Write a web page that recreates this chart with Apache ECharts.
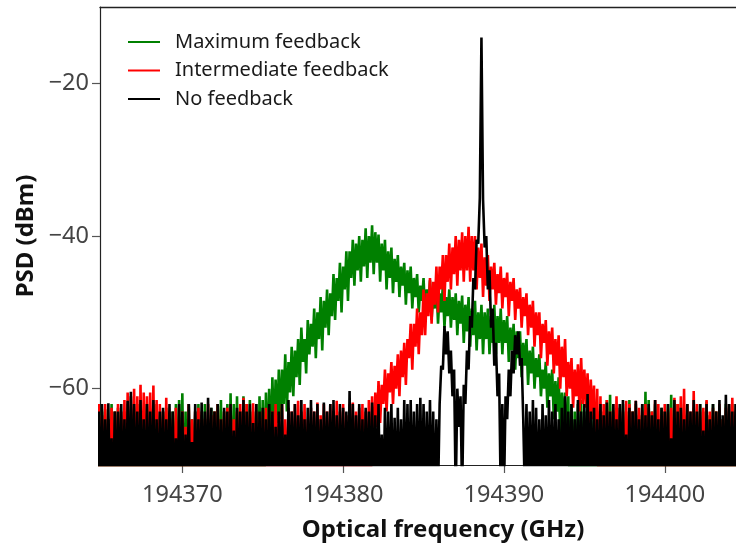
<!DOCTYPE html>
<html>
<head>
<meta charset="utf-8">
<style>
  html, body { margin: 0; padding: 0; background: #fff; }
  #chart { width: 736px; height: 547px; }
</style>
<script src="https://cdn.jsdelivr.net/npm/echarts@6/dist/echarts.min.js"></script>
</head>
<body>
<div id="chart"></div>
<script>
// Optical spectra (PSD in dBm) sampled every 0.1 GHz from freqStart.
// Each row below covers one GHz: values for .0, .1, ... .9
const freqStart = 194364.0;
const freqStep = 0.1;

const xTicks = [194370, 194380, 194390, 194400];
const yTicks = [-60, -40, -20];

const seriesNames = ['Maximum feedback', 'Intermediate feedback', 'No feedback'];
const seriesColors = ['#008000', '#ff0000', '#000000'];

const greenPsd = [
  -63,-76,-62,-76,-64,-76,-63,-76,-62.5,-76,      // 194364
  -63,-76,-62.7,-76,-64,-76,-62,-76,-63,-76,      // 194365
  -62.5,-76,-64,-76,-63,-76,-62,-76,-64,-76,      // 194366
  -63,-76,-62,-76,-64.5,-76,-63,-76,-62,-76,      // 194367
  -64,-76,-63,-76,-62,-76,-64,-76,-63,-76,        // 194368
  -62.5,-76,-64,-76,-63,-76,-62,-76,-61.5,-76,    // 194369
  -60.6,-76,-63,-76,-62,-76,-64,-76,-63,-76,      // 194370
  -62,-76,-63.5,-76,-62,-76,-64,-76,-62.5,-76,    // 194371
  -63,-76,-62,-76,-61.5,-76,-63,-76,-62,-76,      // 194372
  -60.6,-76,-62,-76,-61,-76,-63,-76,-61,-76,      // 194373
  -62,-76,-61.5,-76,-63,-76,-62,-76,-61,-76,      // 194374
  -61.5,-72,-60.5,-69,-60,-68,-58.5,-66.5,-58.8,-64.5, // 194375
  -57.5,-64,-57.5,-62,-55.5,-63,-56.5,-60.5,-54.5,-61, // 194376
  -55,-58.5,-53.5,-59.5,-52,-56.5,-53.5,-58,-51,-55.5, // 194377
  -51.5,-54.5,-49.5,-56,-50,-53.5,-48,-55,-48.5,-52, // 194378
  -47,-53,-47.5,-50.5,-45,-51,-45.5,-48.5,-43.5,-50, // 194379
  -44,-47,-42,-48.5,-42,-45.5,-40.5,-46.5,-41,-44.5, // 194380
  -40,-46,-40.5,-44,-39,-45.5,-40,-43.5,-38.6,-45, // 194381
  -39.5,-43.5,-39.8,-46,-41,-44.5,-40.5,-47,-42,-45.5, // 194382
  -41.5,-47.5,-43,-46,-42.5,-48,-44,-46.5,-43.5,-49, // 194383
  -44.5,-47.5,-44,-49.5,-45.5,-48,-45,-50,-46.5,-48.5, // 194384
  -45.5,-50.5,-47,-49,-45.8,-51,-47.5,-49.5,-46,-51.5, // 194385
  -47.5,-50,-46.5,-52,-48,-50.5,-47,-52,-48,-51,  // 194386
  -47.5,-53,-48.5,-51.5,-47.8,-54,-49,-52.5,-48,-54.5, // 194387
  -49.5,-53,-48.5,-55,-50,-53.5,-49,-55.5,-50,-53.5, // 194388
  -49.5,-55.5,-50.5,-54,-49,-55.5,-50.5,-54,-49.5,-55.5, // 194389
  -51,-54,-50.5,-56.5,-52,-55,-51.5,-57.5,-52.5,-56, // 194390
  -52.5,-58.5,-54,-57,-53.5,-59.5,-55,-58,-54.5,-60, // 194391
  -56,-58.5,-55.5,-61,-57.5,-60,-56.5,-62.5,-58,-61, // 194392
  -57.5,-64,-59,-63,-58.5,-66,-60.5,-65,-60.5,-68, // 194393
  -61,-76,-62,-76,-63,-76,-62,-76,-61.5,-76,      // 194394
  -63,-76,-62,-76,-64,-76,-62.5,-76,-63,-76,      // 194395
  -62,-76,-63,-76,-61.5,-76,-60.8,-76,-63,-76,    // 194396
  -62.5,-76,-64,-76,-62,-76,-63,-76,-61.5,-76,    // 194397
  -63,-76,-62,-76,-63.5,-76,-62,-76,-60.4,-76,    // 194398
  -61.5,-76,-63,-76,-62,-76,-64,-76,-62.5,-76,    // 194399
  -63,-76,-62,-76,-60.8,-76,-63,-76,-62,-76,      // 194400
  -62,-76,-63.5,-76,-62,-76,-64,-76,-62.5,-76,    // 194401
  -63,-76,-62,-76,-63,-76,-61.7,-76,-63.5,-76,    // 194402
  -62,-76,-63,-76,-62.5,-76,-64,-76,-62,-76,      // 194403
  -63,-76,-62,-76,-63.5,-76,-62,-76,-63,-76       // 194404
];

const redPsd = [
  -63,-76,-62.5,-76,-64,-76,-63,-76,-62,-76,      // 194364
  -63.5,-76,-62,-76,-64,-76,-62.5,-76,-63,-76,    // 194365
  -62,-76,-63,-76,-61.5,-76,-60.5,-76,-61,-76,    // 194366
  -60,-76,-61,-76,-59.5,-76,-60.5,-76,-61,-76,    // 194367
  -60.5,-76,-59.6,-76,-61.5,-76,-62,-76,-63,-76,  // 194368
  -61.2,-76,-63,-76,-64,-76,-62.5,-76,-64,-76,    // 194369
  -63,-76,-65,-76,-62,-76,-64,-76,-63,-76,        // 194370
  -62.5,-76,-63,-76,-64,-76,-62,-76,-63.5,-76,    // 194371
  -63,-76,-62,-76,-64,-76,-63,-76,-62.5,-76,      // 194372
  -62,-76,-64,-76,-63,-76,-62,-76,-61.2,-76,      // 194373
  -62,-76,-63,-76,-61.9,-76,-63,-76,-64,-76,      // 194374
  -63,-76,-62.5,-76,-64,-76,-63,-76,-62,-76,      // 194375
  -63.5,-76,-62,-76,-64,-76,-62.5,-76,-63,-76,    // 194376
  -62,-76,-61.6,-76,-63,-76,-62,-76,-64,-76,      // 194377
  -62.5,-76,-63,-76,-61.8,-76,-63.5,-76,-62,-76,  // 194378
  -63,-76,-62,-76,-62.9,-76,-61.6,-76,-63,-76,    // 194379
  -62,-76,-63.5,-76,-62,-76,-61.8,-76,-63,-76,    // 194380
  -62.5,-76,-62,-76,-63,-76,-61.5,-76,-61,-70,    // 194381
  -60.5,-65,-59,-64.5,-59.5,-62,-57.5,-63,-58,-60.5, // 194382
  -56.5,-62,-57,-60,-55.5,-61,-55,-58.5,-54,-59.5, // 194383
  -53.5,-56,-51.5,-57.5,-51.5,-54.5,-49.5,-55.5,-50,-53, // 194384
  -47,-53,-47.5,-50.5,-45.5,-51.5,-46,-49,-44,-50, // 194385
  -44,-47,-42.5,-48.5,-42.5,-46,-41,-47,-41.5,-45, // 194386
  -40,-46.5,-40.5,-44.5,-39.5,-46,-40,-44.5,-38.8,-46, // 194387
  -40,-44.5,-40,-47,-41.5,-45.5,-41,-48,-42.8,-46.5, // 194388
  -42.5,-48.5,-44,-47,-43.5,-49,-45,-47.5,-44,-49.5, // 194389
  -45.5,-48,-44.8,-50.5,-46,-48.5,-45.5,-51,-47,-49.5, // 194390
  -46.8,-52,-48,-50.5,-47.5,-53,-49,-52,-48.5,-54.5, // 194391
  -50,-53,-50,-56,-51.5,-54,-51,-57,-52.5,-55.5,  // 194392
  -52,-58,-53.5,-57,-53,-60,-54.5,-58.5,-53.5,-61, // 194393
  -56.5,-60,-56,-62.5,-57.5,-61,-56.8,-63,-56,-62, // 194394
  -57.5,-62.5,-58,-65,-58.8,-64,-59.6,-70,-60,-76, // 194395
  -61,-76,-62,-76,-61.5,-76,-63,-76,-62,-76,      // 194396
  -61,-76,-62.5,-76,-63,-76,-61.6,-76,-62,-76,    // 194397
  -63,-76,-61.6,-76,-62.5,-76,-63,-76,-62,-76,    // 194398
  -62.5,-76,-63,-76,-61.5,-76,-62,-76,-63.5,-76,  // 194399
  -62,-76,-63,-76,-62.5,-76,-61.2,-76,-62,-76,    // 194400
  -61,-76,-60,-76,-62,-76,-63,-76,-60.3,-76,      // 194401
  -62,-76,-63,-76,-62.5,-76,-61.5,-76,-63,-76,    // 194402
  -62.5,-76,-63,-76,-62,-76,-64,-76,-62.5,-76,    // 194403
  -62,-76,-61.2,-76,-63,-76,-62,-76,-61.2,-76     // 194404
];

const blackPsd = [
  -63,-76,-62,-76,-64,-76,-62,-76,-63,-76,        // 194364
  -62,-76,-64,-76,-61.9,-76,-66.5,-76,-63,-76,    // 194365
  -63,-76,-62,-76,-64,-76,-61.6,-76,-60.4,-76,    // 194366
  -62,-76,-63,-76,-61.5,-76,-64,-76,-62,-76,      // 194367
  -63,-76,-61.5,-76,-64,-76,-63,-76,-62.5,-76,    // 194368
  -64,-76,-62,-76,-63,-76,-66.5,-76,-62,-76,      // 194369
  -63,-76,-66,-76,-62,-76,-67,-76,-62,-76,        // 194370
  -64,-76,-61.8,-76,-63,-76,-61.2,-76,-62.5,-76,  // 194371
  -63,-76,-62,-76,-64,-76,-62.5,-76,-63,-76,      // 194372
  -62,-76,-65.5,-76,-62.5,-76,-63,-76,-61.5,-76,  // 194373
  -63,-76,-62,-76,-64.5,-76,-62,-76,-63,-76,      // 194374
  -62.5,-76,-64,-76,-62,-76,-63,-76,-65,-76,      // 194375
  -63,-76,-62,-76,-66,-76,-61.5,-76,-63,-76,      // 194376
  -62,-76,-63.5,-76,-61.5,-76,-64,-76,-62.5,-76,  // 194377
  -61.5,-76,-63,-76,-62,-76,-64,-76,-61.8,-76,    // 194378
  -63,-76,-62,-76,-61.5,-76,-63.5,-76,-62,-76,    // 194379
  -62.5,-76,-63,-76,-60.3,-76,-62,-76,-63.5,-76,  // 194380
  -62,-76,-64,-76,-62.5,-76,-63,-76,-61.8,-76,    // 194381
  -63.5,-76,-62,-76,-66,-76,-62.5,-76,-63,-76,    // 194382
  -62,-76,-63.8,-76,-62.5,-76,-64,-76,-61.5,-76,  // 194383
  -62,-76,-61.5,-76,-63,-76,-62,-76,-61.2,-76,    // 194384
  -62,-76,-63,-76,-61.5,-76,-63,-76,-64,-74,      // 194385
  -62,-57,-57.5,-51.8,-55.5,-52.5,-58,-55,-61,-57.5, // 194386
  -74,-60,-65,-61,-74,-59.5,-62,-55,-57.5,-50.5,  // 194387
  -52,-45.5,-47,-40.5,-41,-35,-14,-35.3,-41.5,-40, // 194388
  -47,-44.5,-52,-49.5,-57,-54,-61,-58,-74,-62,    // 194389
  -74,-61,-64,-57.5,-61,-55,-58,-53,-55.5,-52.5,  // 194390
  -57,-56,-64,-74,-62,-76,-63,-76,-61.5,-76,      // 194391
  -62.5,-76,-64,-76,-62,-76,-63.5,-76,-61.5,-76,  // 194392
  -63,-76,-62,-76,-64,-76,-62.5,-76,-61,-76,      // 194393
  -63,-76,-62,-76,-64,-76,-61.5,-76,-63,-76,      // 194394
  -62,-76,-60.7,-76,-63,-76,-62.5,-76,-64,-76,    // 194395
  -62,-76,-63.5,-76,-61.8,-76,-63,-76,-62,-76,    // 194396
  -64,-76,-62,-76,-61.5,-76,-66,-76,-62.5,-76,    // 194397
  -63,-76,-61.6,-76,-64,-76,-62,-76,-63.5,-76,    // 194398
  -62,-76,-63.5,-76,-61.5,-76,-64,-76,-62.5,-76,  // 194399
  -63,-76,-62,-76,-66.5,-76,-61.5,-76,-63,-76,    // 194400
  -62.5,-76,-64,-76,-62,-76,-63,-76,-61.5,-76,    // 194401
  -63,-76,-62,-76,-65.5,-76,-62,-76,-64,-76,      // 194402
  -62,-76,-63,-76,-61.5,-76,-63.5,-76,-60.8,-76,  // 194403
  -62,-76,-63,-76,-62,-76,-64,-76,-62.5,-76       // 194404
];

// visible frequency window
const freqMin = 194364.88;
const freqMax = 194404.43;

function withFreq(values) {
  return values.map((v, i) => [Math.round((freqStart + i * freqStep) * 10) / 10, v]);
}

const minus = v => (v < 0 ? '\u2212' + Math.abs(v) : String(v));
const fontFamily = '"Noto Sans", "DejaVu Sans", sans-serif';

const chart = echarts.init(document.getElementById('chart'), null, { renderer: 'canvas' });

const spectra = [greenPsd, redPsd, blackPsd];

chart.setOption({
  animation: false,
  backgroundColor: '#ffffff',
  grid: { left: 100, right: 0, top: 7, bottom: 80, containLabel: false },
  legend: {
    orient: 'vertical',
    left: 123,
    top: 27,
    itemWidth: 32,
    itemHeight: 2,
    itemGap: 8.5,
    icon: 'rect',
    data: seriesNames,
    textStyle: {
      fontFamily: fontFamily,
      fontSize: 20,
      lineHeight: 20,
      color: '#1a1a1a',
      padding: [0, 0, 0, 10]
    },
    selectedMode: false
  },
  xAxis: [
    {
      type: 'value',
      min: freqMin,
      max: freqMax,
      name: 'Optical frequency (GHz)',
      nameLocation: 'middle',
      nameGap: 53,
      nameTextStyle: {
        fontFamily: fontFamily, fontSize: 24, fontWeight: 'bold', color: '#111',
        padding: [0, 0, 0, 50]
      },
      axisLine: { show: true, lineStyle: { color: '#222', width: 1.2 } },
      axisTick: { show: true, customValues: xTicks, length: 8, lineStyle: { color: '#555', width: 1.2 } },
      axisLabel: {
        customValues: xTicks,
        formatter: v => String(v),
        margin: 18,
        fontFamily: fontFamily,
        fontSize: 23.5,
        color: '#444'
      },
      splitLine: { show: false }
    },
    {
      type: 'value',
      position: 'top',
      min: freqMin,
      max: freqMax,
      axisLine: { show: true, lineStyle: { color: '#222', width: 1.4 } },
      axisTick: { show: false },
      axisLabel: { show: false },
      splitLine: { show: false }
    }
  ],
  yAxis: {
    type: 'value',
    min: -70,
    max: -10,
    name: 'PSD (dBm)',
    nameLocation: 'middle',
    nameRotate: 90,
    nameGap: 62,
    nameTextStyle: { fontFamily: fontFamily, fontSize: 24, fontWeight: 'bold', color: '#111' },
    axisLine: { show: true, lineStyle: { color: '#222', width: 1.2 } },
    axisTick: { show: true, customValues: yTicks, length: 8, lineStyle: { color: '#555', width: 1.2 } },
    axisLabel: {
      customValues: yTicks,
      formatter: minus,
      margin: 11,
      fontFamily: fontFamily,
      fontSize: 23.5,
      color: '#444'
    },
    splitLine: { show: false }
  },
  series: spectra.map((vals, k) => ({
    name: seriesNames[k],
    type: 'line',
    xAxisIndex: 0,
    data: withFreq(vals),
    showSymbol: false,
    symbol: 'none',
    clip: true,
    color: seriesColors[k],
    lineStyle: { color: seriesColors[k], width: 2.6, join: 'bevel' },
    emphasis: { disabled: true },
    z: 2 + k
  }))
});
</script>
</body>
</html>
